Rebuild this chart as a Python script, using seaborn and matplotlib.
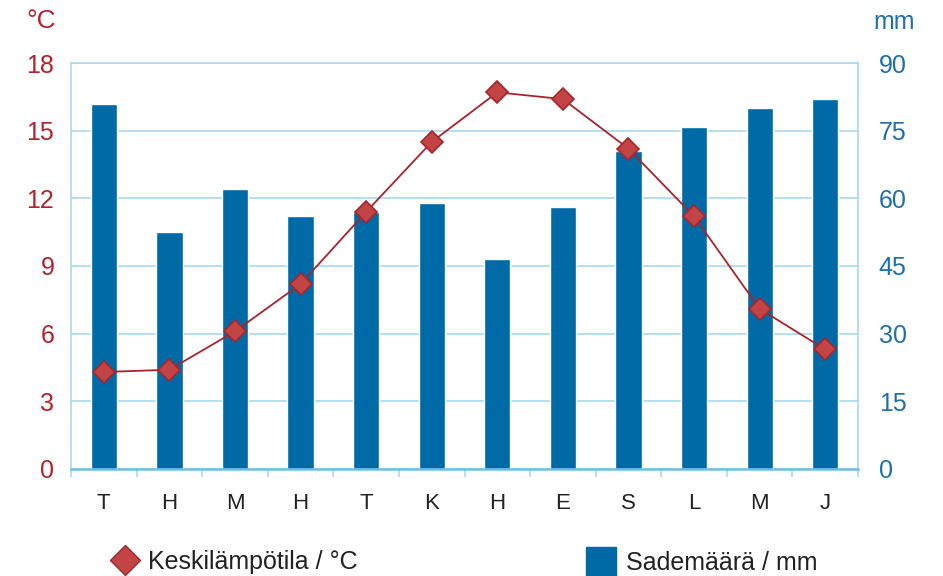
import matplotlib
matplotlib.use("Agg")
import matplotlib.pyplot as plt
import seaborn as sns
import numpy as np
from matplotlib.lines import Line2D
from matplotlib.patches import Patch

months = ["T", "H", "M", "H", "T", "K", "H", "E", "S", "L", "M", "J"]
rain_mm = [81, 52.5, 62, 56, 57, 59, 46.5, 58, 70.5, 75.8, 80, 82]
temp_c = [4.3, 4.4, 6.1, 8.2, 11.4, 14.5, 16.7, 16.4, 14.2, 11.2, 7.1, 5.3]
temp_ticks = [0, 3, 6, 9, 12, 15, 18]
rain_ticks = [0, 15, 30, 45, 60, 75, 90]

sns.set_theme(style="white")
plt.rcParams['font.family'] = ['Liberation Sans', 'DejaVu Sans']

RED = "#b3232b"
BLUE = "#006aa6"
TICKBLUE = "#1f6fa8"
GRID = "#a9d9ef"

fig = plt.figure(figsize=(9.43, 5.76), dpi=100)
ax = fig.add_axes([0.0753, 0.1858, 0.8346, 0.7048])

idx = list(range(len(months)))
sns.barplot(x=idx, y=rain_mm, ax=ax, color=BLUE, width=0.4, saturation=1, zorder=2)
ax.set_xlim(-0.5, len(months) - 0.5)
ax.set_axisbelow(True)
ax.xaxis.grid(False)
ax.set_xticks(idx)
ax.set_xticklabels(months)
ax.set_xticks(np.arange(-0.5, len(months), 1.0), minor=True)
ax.tick_params(axis='x', which='major', length=0, labelsize=16, labelcolor="#222222", pad=17)
ax.tick_params(axis='x', which='minor', length=6, width=1.2, color=GRID, direction='out', bottom=True)
for s in ax.spines.values():
    s.set_color(GRID)
    s.set_linewidth(1.2)
ax.spines['bottom'].set_color("#6cc0e8")
ax.spines['bottom'].set_linewidth(1.8)
ax.set_xlabel("")
ax.set_ylabel("")

ax2 = ax.twinx()
sns.lineplot(x=idx, y=temp_c, ax=ax2, color="#a5242d", linewidth=1.3,
             marker="D", markersize=11, markerfacecolor="#c24444",
             markeredgecolor="#a3272c", markeredgewidth=1.2)
ax2.set_ylim(0, 18)
ax2.set_yticks(temp_ticks)
ax2.yaxis.tick_left()
ax2.tick_params(axis='y', which='both', length=0, labelsize=18, labelcolor=RED, pad=12)
for s in ax2.spines.values():
    s.set_visible(False)
ax2.set_ylabel("")
ax2.grid(False)

ax.set_ylim(0, 90)
ax.set_yticks(rain_ticks)
ax.yaxis.tick_right()
ax.yaxis.set_label_position("right")
ax.tick_params(axis='y', which='both', length=0, labelsize=18, labelcolor=TICKBLUE, pad=15,
               left=False, labelleft=False, right=False, labelright=True)
ax.yaxis.grid(True, color=GRID, linewidth=1.2)

fig.text(0.028, 0.963, "°C", color=RED, fontsize=19, ha='left', va='center')
fig.text(0.926, 0.962, "mm", color=TICKBLUE, fontsize=18, ha='left', va='center')

h1 = Line2D([], [], linestyle='none', marker='D', markersize=15,
            markerfacecolor="#c24444", markeredgecolor="#a3272c")
fig.legend(handles=[h1], labels=["Keskilämpötila / °C"], loc='center left',
           bbox_to_anchor=(0.093, 0.025), frameon=False, fontsize=18,
           handletextpad=0.3, handlelength=1.2, labelcolor="#222222")
h2 = Patch(facecolor=BLUE, edgecolor=BLUE)
fig.legend(handles=[h2], labels=["Sademäärä / mm"], loc='center left',
           bbox_to_anchor=(0.598, 0.025), frameon=False, fontsize=18,
           handletextpad=0.4, handlelength=1.2, handleheight=1.4, labelcolor="#222222")

fig.savefig("out.png", dpi=100)
